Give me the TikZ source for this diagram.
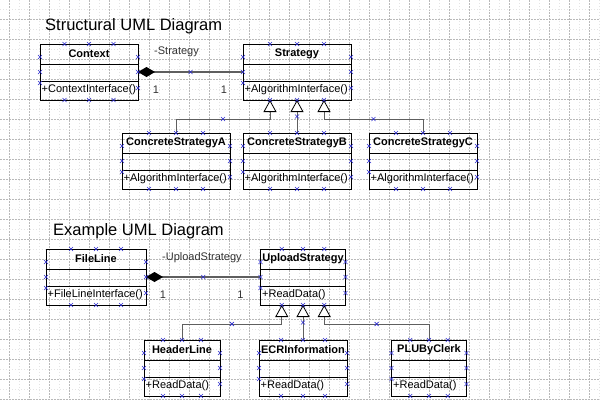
\documentclass[tikz,border=0pt]{standalone}
\usepackage{fontspec}
\setmainfont{Liberation Sans}
\usetikzlibrary{arrows.meta,calc}

\definecolor{puntoblu}{RGB}{45,45,205}
\definecolor{grigliascura}{RGB}{185,185,185}
\definecolor{griglia}{RGB}{228,228,228}
\definecolor{connettore}{RGB}{95,95,95}

\pgfdeclarelayer{front}
\pgfsetlayers{main,front}

\tikzset{
  classbox/.style={draw=black, line width=0.8pt, inner sep=0pt, outer sep=0pt,
    minimum height=56pt, anchor=north west},
  classname/.style={font=\bfseries\fontsize{11}{13}\selectfont, inner sep=0pt},
  classop/.style={font=\fontsize{11}{13}\selectfont, inner sep=0pt, anchor=west},
  rolelabel/.style={font=\fontsize{11}{13}\selectfont, text=black!80, inner sep=0pt},
  titolo/.style={font=\fontsize{16.5}{19}\selectfont, inner sep=0pt, anchor=base west},
  cptline/.style={draw=puntoblu, line width=0.6pt, solid, -},
  pics/cpt/.style={code={\draw[cptline] (-2,-2) -- (2,2) (-2,2) -- (2,-2);}},
  compos/.style={draw=connettore, line width=1.6pt,
    {Diamond[length=17pt, width=10pt, fill=black, color=black]}-},
  gener/.style={draw=connettore, line width=0.9pt,
    -{Triangle[length=12pt, width=13pt, fill=white, color=black, line width=0.8pt]}},
  majorgrid/.style={draw=grigliascura, line width=0.6pt, dash pattern=on 1.5pt off 1.5pt},
  minorgrid/.style={draw=griglia, line width=0.5pt, dash pattern=on 1pt off 2pt},
}

% #1 nome, #2 x, #3 y (angolo in alto a sinistra), #4 larghezza, #5 titolo, #6 operazione
\newcommand{\classeuml}[6]{%
  \node[classbox, minimum width=#4pt] (#1) at (#2,#3) {};
  \draw[line width=0.8pt] ($(#1.north west)+(0,20)$) -- ($(#1.north east)+(0,20)$)
    ($(#1.north west)+(0,37)$) -- ($(#1.north east)+(0,37)$);
  \node[classname] (#1-nome) at ($(#1.north)+(0,10)$) {#5};
  \node[classop] (#1-op) at ($(#1.north west)+(1.5,46)$) {#6};
  % punti di connessione
  \begin{pgfonlayer}{front}
  \foreach \f [count=\i] in {0.25,0.5,0.75} {
    \coordinate (#1-t\i) at ($(#1.north west)!\f!(#1.north east)$);
    \coordinate (#1-b\i) at ($(#1.south west)!\f!(#1.south east)$);
    \pic at (#1-t\i) {cpt};
    \pic at (#1-b\i) {cpt};
  }
  \foreach \d [count=\i] in {13,28,39} {
    \coordinate (#1-l\i) at ($(#1.north west)+(0,\d)$);
    \pic at (#1-l\i) {cpt};
  }
  \foreach \d [count=\i] in {13,28,44} {
    \coordinate (#1-r\i) at ($(#1.north east)+(0,\d)$);
    \pic at (#1-r\i) {cpt};
  }
  \end{pgfonlayer}
}

\begin{document}
\begin{tikzpicture}[x=1pt, y=-1pt]
  \useasboundingbox (0,0) rectangle (600,400);
  \fill[white] (0,0) rectangle (600,400);

  % griglia: linee principali ogni 20, secondarie in mezzo
  \foreach \g in {0,...,29} {
    \draw[minorgrid] (19.5+20*\g,0) -- (19.5+20*\g,400);
    \draw[majorgrid] (9.5+20*\g,0) -- (9.5+20*\g,400);
  }
  \foreach \g in {0,...,19} {
    \draw[minorgrid] (0,9+20*\g) -- (600,9+20*\g);
    \draw[majorgrid] (0,19+20*\g) -- (600,19+20*\g);
  }

  % diagramma strutturale
  \node[titolo] (title-struct) at (45,30) {Structural UML Diagram};
  \classeuml{context}{40}{44}{98}{Context}{+ContextInterface()}
  \classeuml{strategy}{243}{44}{108}{Strategy}{+AlgorithmInterface()}
  \classeuml{csa}{122}{133}{108}{ConcreteStrategyA}{+AlgorithmInterface()}
  \classeuml{csb}{243}{133}{108}{ConcreteStrategyB}{+AlgorithmInterface()}
  \classeuml{csc}{369}{133}{108}{ConcreteStrategyC}{+AlgorithmInterface()}

  \draw[compos] (context-r2) -- (strategy-l2) pic[pos=0.5] {cpt};
  \node[rolelabel, anchor=west] (role-strategy) at ($(context-r2)+(16,-20)$) {-Strategy};
  \node[rolelabel] (mult-context) at ($(context-r2)+(18,18)$) {1};
  \node[rolelabel] (mult-strategy) at ($(strategy-l2)+(-19,18)$) {1};

  \draw[gener] (csa-t2) |- ($(strategy-b1)+(0,19)$) pic[pos=0.75] {cpt} -- (strategy-b1);
  \draw[gener] (csb-t2) -- (strategy-b2) pic[pos=0.5] {cpt};
  \draw[gener] (csc-t2) |- ($(strategy-b3)+(0,19)$) pic[pos=0.75] {cpt} -- (strategy-b3);

  % diagramma di esempio
  \node[titolo] (title-example) at (53,235) {Example UML Diagram};
  \classeuml{fileline}{46}{249}{100}{FileLine}{+FileLineInterface()}
  \classeuml{upload}{260.5}{249}{85}{UploadStrategy}{+ReadData()}
  \classeuml{header}{144}{340}{76}{HeaderLine}{+ReadData()}
  \classeuml{ecr}{259}{340}{88}{ECRInformation}{+ReadData()}
  \classeuml{plu}{391.5}{340}{75}{PLUByClerk}{+ReadData()}

  \draw[compos] (fileline-r2) -- (upload-l2) pic[pos=0.5] {cpt};
  \node[rolelabel, anchor=west] (role-upload) at ($(fileline-r2)+(16,-19)$) {-UploadStrategy};
  \node[rolelabel] (mult-fileline) at ($(fileline-r2)+(17,18)$) {1};
  \node[rolelabel] (mult-upload) at ($(upload-l2)+(-20,18)$) {1};

  \draw[gener] (header-t2) |- ($(upload-b1)+(0,19)$) pic[pos=0.75] {cpt} -- (upload-b1);
  \draw[gener] (ecr-t2) -- (upload-b2) pic[pos=0.5] {cpt};
  \draw[gener] (plu-t2) |- ($(upload-b3)+(0,19)$) pic[pos=0.75] {cpt} -- (upload-b3);
\end{tikzpicture}
\end{document}
